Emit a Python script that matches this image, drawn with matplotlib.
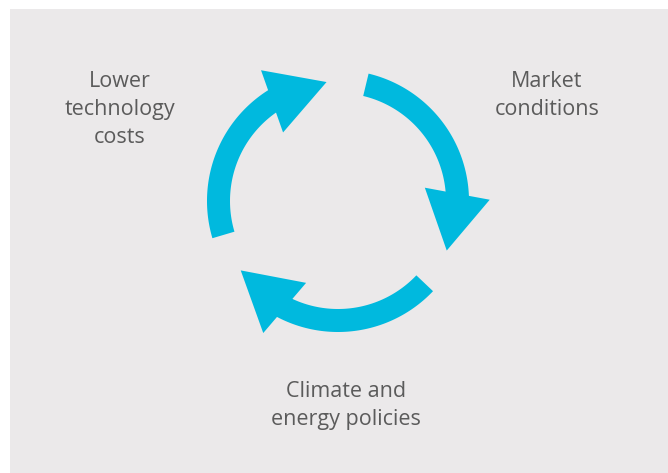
import matplotlib
matplotlib.use("Agg")
import matplotlib.pyplot as plt
import numpy as np
from matplotlib.patches import Polygon, Rectangle

# Cycle labels (one per arrow gap) and where their text blocks sit
labels = ["Lower\ntechnology\ncosts", "Market\nconditions", "Climate and\nenergy policies"]
label_x = [120, 547, 346]
label_top_baseline = [87, 87, 397]

# Arrow geometry (angles in degrees, counter-clockwise from east)
tail_angles = [76.5, 196.5, 316.5]
body_sweep = 73      # tail -> base of the head
head_sweep = 28      # base of the head -> tip
cx, cy = 338, 201
r_mid = 119.5
band_w = 23
head_w = 66

W, H = 668, 473
BG = "#ebe9ea"
CYAN = "#00b9de"
TXT = "#5b5b5b"

fig = plt.figure(figsize=(W / 100, H / 100), dpi=100)
fig.patch.set_facecolor("white")
ax = fig.add_axes([0, 0, 1, 1])
ax.set_xlim(0, W)
ax.set_ylim(H, 0)
ax.axis("off")

ax.add_patch(Rectangle((10, 9), W - 10, H - 9, facecolor=BG, edgecolor="none"))


def pt(r, a):
    a = np.radians(a)
    return np.array([cx + r * np.cos(a), cy - r * np.sin(a)])


for t in tail_angles:
    base = t - body_sweep
    tip = base - head_sweep
    # curved body, run a little past the base so it tucks under the head
    angs = np.linspace(t, base - 3, 80)
    outer = [pt(r_mid + band_w / 2, a) for a in angs]
    inner = [pt(r_mid - band_w / 2, a) for a in angs[::-1]]
    ax.add_patch(Polygon(outer + inner, closed=True, facecolor=CYAN,
                         edgecolor="none"))
    # triangular head
    m = pt(r_mid, base)
    p = pt(r_mid, tip)
    d = (p - m) / np.linalg.norm(p - m)
    n = np.array([-d[1], d[0]])
    tri = [m + n * head_w / 2, p, m - n * head_w / 2]
    ax.add_patch(Polygon(tri, closed=True, facecolor=CYAN, edgecolor="none"))

for lab, x, y0 in zip(labels, label_x, label_top_baseline):
    for i, line in enumerate(lab.split("\n")):
        ax.text(x, y0 + 28 * i, line, ha="center", va="baseline",
                fontsize=15.5, color=TXT, family="Open Sans")

fig.savefig("out.png", dpi=100, facecolor=fig.get_facecolor())
